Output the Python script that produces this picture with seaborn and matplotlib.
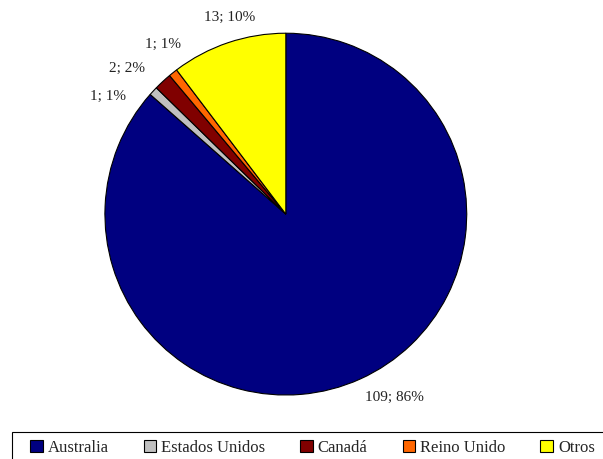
"""Pie chart of counts by country with count; percent labels."""

import numpy as np
import matplotlib.pyplot as plt
import seaborn as sns
from matplotlib.patches import Rectangle

countries = ['Australia', 'Estados Unidos', 'Canadá', 'Reino Unido', 'Otros']
counts = [109, 1, 2, 1, 13]
percents = [86, 1, 2, 1, 10]
colors = ['#000080', '#C0C0C0', '#800000', '#FF6600', '#FFFF00']

if __name__ == '__main__':

    sns.set_theme(style='white')
    plt.rcParams['font.family'] = ['Liberation Serif', 'DejaVu Serif']

    fig = plt.figure(figsize=(6.03, 4.59), dpi=100)
    ax = fig.add_axes([0.174, 0.139, 0.600, 0.789])

    wedges, _ = ax.pie(counts, colors=colors, startangle=90, counterclock=False,
                       wedgeprops=dict(edgecolor='black', linewidth=0.8))
    for w in wedges:
        w.set_clip_on(False)
    ax.set_xlim(-1, 1)
    ax.set_ylim(-1, 1)
    ax.set_aspect('equal')

    # label angle nudges (deg) and distances, to spread the small slices apart
    nudges = [6.3, 9.5, 4.5, -2.7, -2.7]
    dists = [1.18, 1.18, 1.19, 1.16, 1.13]
    for w, n, p, nud, d in zip(wedges, counts, percents, nudges, dists):
        mid = np.deg2rad((w.theta1 + w.theta2) / 2 + nud)
        ax.text(d * np.cos(mid), d * np.sin(mid), f'{n}; {p}%',
                ha='center', va='center', fontsize=11, color='#222222')

    # legend box runs off the right and bottom edges, as in the original
    fig.patches.append(Rectangle((0.02, -0.05), 1.1, 0.109, transform=fig.transFigure,
                                 fill=False, edgecolor='black', linewidth=0.8))
    fig.legend(wedges, countries, loc='center left', ncol=5,
               bbox_to_anchor=(0.05, 0.024), borderaxespad=0, borderpad=0,
               fontsize=12, frameon=False, handlelength=0.75, handleheight=0.75,
               handletextpad=0.3, columnspacing=2.1)

    fig.savefig('out.png', dpi=100)
